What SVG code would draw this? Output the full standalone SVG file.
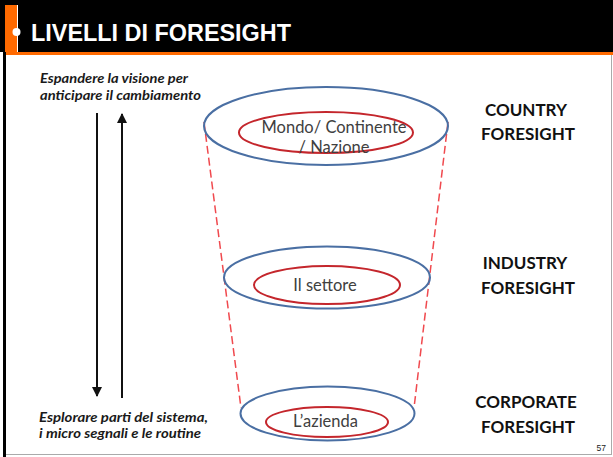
<svg xmlns="http://www.w3.org/2000/svg" width="613" height="457" viewBox="0 0 613 457">
<defs>
<style>
.ttl{font-family:"Liberation Sans",Arial,sans-serif;font-weight:bold;font-size:24px;fill:#fff}
.side{font-family:Lato,"Liberation Sans",sans-serif;font-weight:bold;font-style:italic;font-size:13.5px;fill:#1a1a1a}
.lvl{font-family:Lato,"Liberation Sans",sans-serif;font-weight:bold;font-size:17px;fill:#111;text-anchor:middle}
.in{font-family:Lato,"Liberation Sans",sans-serif;font-size:16.5px;fill:#404040;text-anchor:middle}
.outer{fill:none;stroke:#4a6fa3;stroke-width:2}
.inner{fill:none;stroke:#c4262c;stroke-width:2}
.dash{fill:none;stroke:#f0494e;stroke-width:1.5;stroke-dasharray:8 4}
.arr{fill:none;stroke:#111;stroke-width:2}
</style>
<marker id="ah" viewBox="0 0 10 10" refX="9" refY="5" markerWidth="5" markerHeight="5" orient="auto-start-reverse" markerUnits="strokeWidth">
<path d="M0,0 L10,5 L0,10 Z" fill="#111"/>
</marker>
</defs>
<rect width="613" height="457" fill="#fff"/>
<g id="header">
<rect x="0" y="0" width="613" height="52" fill="#000"/>
<rect x="5" y="5" width="12" height="47" fill="#ff6a00"/>
<line x1="17.5" y1="5" x2="17.5" y2="52" stroke="#fff" stroke-width="1"/>
<rect x="5" y="52" width="608" height="3" fill="#ff6a00"/>
<circle cx="16.5" cy="32" r="4" fill="#fff"/>
<text class="ttl" x="31" y="41" textLength="260" lengthAdjust="spacingAndGlyphs">LIVELLI DI FORESIGHT</text>
</g>
<g id="frame">
<line x1="4.5" y1="52" x2="4.5" y2="457" stroke="#000" stroke-width="3"/>
<line x1="611.5" y1="55" x2="611.5" y2="455" stroke="#aaa" stroke-width="1"/>
<line x1="6" y1="454.5" x2="612" y2="454.5" stroke="#aaa" stroke-width="1"/>
</g>
<g id="connectors">
<line class="dash" x1="204" y1="122" x2="241" y2="408"/>
<line class="dash" x1="448" y1="122" x2="414" y2="408"/>
<line class="arr" x1="97" y1="113" x2="97" y2="396" marker-end="url(#ah)"/>
<line class="arr" x1="122" y1="398" x2="122" y2="114" marker-end="url(#ah)"/>
</g>
<g id="country">
<ellipse class="outer" cx="326" cy="126" rx="122" ry="39"/>
<ellipse class="inner" cx="326" cy="132.5" rx="87" ry="20.5"/>
<text class="in" x="334" y="133">Mondo/ Continente</text>
<text class="in" x="334" y="153">/ Nazione</text>
</g>
<g id="industry">
<ellipse class="outer" cx="327" cy="277.5" rx="103" ry="31"/>
<ellipse class="inner" cx="327" cy="285" rx="73" ry="19"/>
<text class="in" x="325" y="291">Il settore</text>
</g>
<g id="corporate">
<ellipse class="outer" cx="327.5" cy="413.5" rx="87" ry="27"/>
<ellipse class="inner" cx="327" cy="422" rx="61" ry="15"/>
<text class="in" x="325.5" y="427">L’azienda</text>
</g>
<g id="side-labels">
<text class="side" x="40" y="83" textLength="148" lengthAdjust="spacingAndGlyphs">Espandere la visione per</text>
<text class="side" x="40" y="100" textLength="161" lengthAdjust="spacingAndGlyphs">anticipare il cambiamento</text>
<text class="side" x="39" y="422" textLength="169" lengthAdjust="spacingAndGlyphs">Esplorare parti del sistema,</text>
<text class="side" x="39" y="438" textLength="162" lengthAdjust="spacingAndGlyphs">i micro segnali e le routine</text>
</g>
<g id="level-labels">
<text class="lvl" x="526" y="116">COUNTRY</text>
<text class="lvl" x="528" y="140">FORESIGHT</text>
<text class="lvl" x="525" y="269">INDUSTRY</text>
<text class="lvl" x="528" y="294">FORESIGHT</text>
<text class="lvl" x="526" y="408">CORPORATE</text>
<text class="lvl" x="528" y="433">FORESIGHT</text>
<text x="606" y="451" font-family="'Liberation Sans',Arial,sans-serif" font-size="8.5" fill="#222" text-anchor="end">57</text>
</g>
</svg>
